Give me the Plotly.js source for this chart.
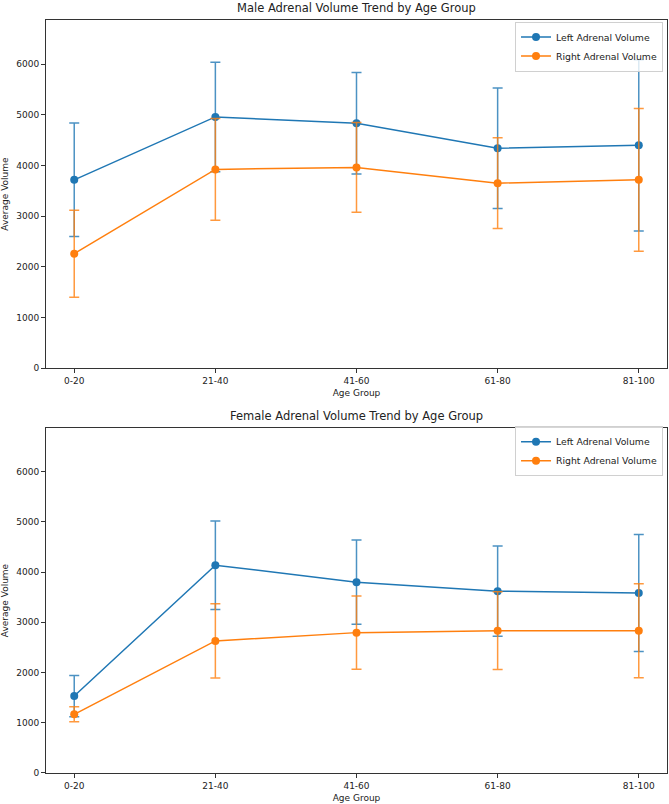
<!DOCTYPE html>
<html>
<head>
<meta charset="utf-8">
<script src="https://cdn.plot.ly/plotly-3.0.1.min.js"></script>
<style>html,body{margin:0;padding:0;background:#fff;}#chart{width:669px;height:804px;}</style>
</head>
<body>
<div id="chart"></div>
<script>
const ageGroups = ["0-20", "21-40", "41-60", "61-80", "81-100"];

const maleLeftMean = [3715, 4957, 4832, 4337, 4396];
const maleLeftErr = [1120, 1080, 1000, 1190, 1690];
const maleRightMean = [2257, 3921, 3960, 3650, 3715];
const maleRightErr = [860, 1004, 885, 895, 1410];

const femaleLeftMean = [1532, 4137, 3800, 3621, 3582];
const femaleLeftErr = [410, 880, 840, 900, 1165];
const femaleRightMean = [1169, 2630, 2795, 2834, 2834];
const femaleRightErr = [150, 740, 730, 775, 935];

const yTicks = [0, 1000, 2000, 3000, 4000, 5000, 6000];

const BLUE = "#1f77b4", ORANGE = "#ff7f0e";
const BLUE_E = "rgba(31,119,180,0.8)", ORANGE_E = "rgba(255,127,14,0.8)";

function tr(y, err, name, color, ecolor, xa, ya, leg) {
  return {
    x: ageGroups, y: y, name: name, type: "scatter", mode: "lines+markers",
    xaxis: xa, yaxis: ya, legend: leg,
    line: {color: color, width: 1.5},
    marker: {color: color, size: 8},
    error_y: {type: "data", array: err, visible: true, color: ecolor, thickness: 1.5, width: 5}
  };
}

const data = [
  tr(maleLeftMean, maleLeftErr, "Left Adrenal Volume", BLUE, BLUE_E, "x", "y", "legend"),
  tr(maleRightMean, maleRightErr, "Right Adrenal Volume", ORANGE, ORANGE_E, "x", "y", "legend"),
  tr(femaleLeftMean, femaleLeftErr, "Left Adrenal Volume", BLUE, BLUE_E, "x2", "y2", "legend2"),
  tr(femaleRightMean, femaleRightErr, "Right Adrenal Volume", ORANGE, ORANGE_E, "x2", "y2", "legend2")
];

const FONT = "DejaVu Sans, sans-serif";
function xax(anchor) {
  return {
    anchor: anchor, type: "category", range: [-0.2, 4.2], domain: [0, 1],
    showline: true, mirror: true, linecolor: "#333", linewidth: 1,
    ticks: "outside", ticklen: 4, tickcolor: "#333", showgrid: false, zeroline: false,
    tickfont: {family: FONT, size: 9, color: "#222"},
    title: {text: "Age Group", font: {family: FONT, size: 9, color: "#222"}, standoff: 4}
  };
}
function yax(anchor, dom) {
  return {
    anchor: anchor, domain: dom, range: [0, 6870], tickvals: yTicks,
    showline: true, mirror: true, linecolor: "#333", linewidth: 1,
    ticks: "outside", ticklen: 4, tickcolor: "#333", showgrid: false, zeroline: false,
    tickfont: {family: FONT, size: 9, color: "#222"},
    title: {text: "Average Volume", font: {family: FONT, size: 9, color: "#222"}, standoff: 6}
  };
}
function leg(y) {
  return {x: 0.9936, y: y, xanchor: "right", yanchor: "top", bgcolor: "rgba(255,255,255,0.8)",
    bordercolor: "#d0d0d0", borderwidth: 1, font: {family: FONT, size: 9.3, color: "#222"},
    tracegroupgap: 0, itemwidth: 30};
}

const layout = {
  width: 669, height: 804,
  margin: {l: 46, r: 2, t: 20, b: 31},
  paper_bgcolor: "#fff", plot_bgcolor: "#fff",
  font: {family: FONT, color: "#222"},
  xaxis: xax("y"), yaxis: yax("x", [0.5378, 1]),
  xaxis2: xax("y2"), yaxis2: yax("x2", [0, 0.4582]),
  legend: leg(0.998), legend2: leg(0.4605),
  showlegend: true,
  annotations: [
    {text: "Male Adrenal Volume Trend by Age Group", xref: "paper", yref: "paper", x: 0.5, y: 1, yshift: 3,
     xanchor: "center", yanchor: "bottom", showarrow: false, font: {family: FONT, size: 11.5, color: "#222"}},
    {text: "Female Adrenal Volume Trend by Age Group", xref: "paper", yref: "paper", x: 0.5, y: 0.4582, yshift: 3,
     xanchor: "center", yanchor: "bottom", showarrow: false, font: {family: FONT, size: 11.5, color: "#222"}}
  ]
};

Plotly.newPlot("chart", data, layout, {displayModeBar: false, staticPlot: true});
</script>
</body>
</html>
